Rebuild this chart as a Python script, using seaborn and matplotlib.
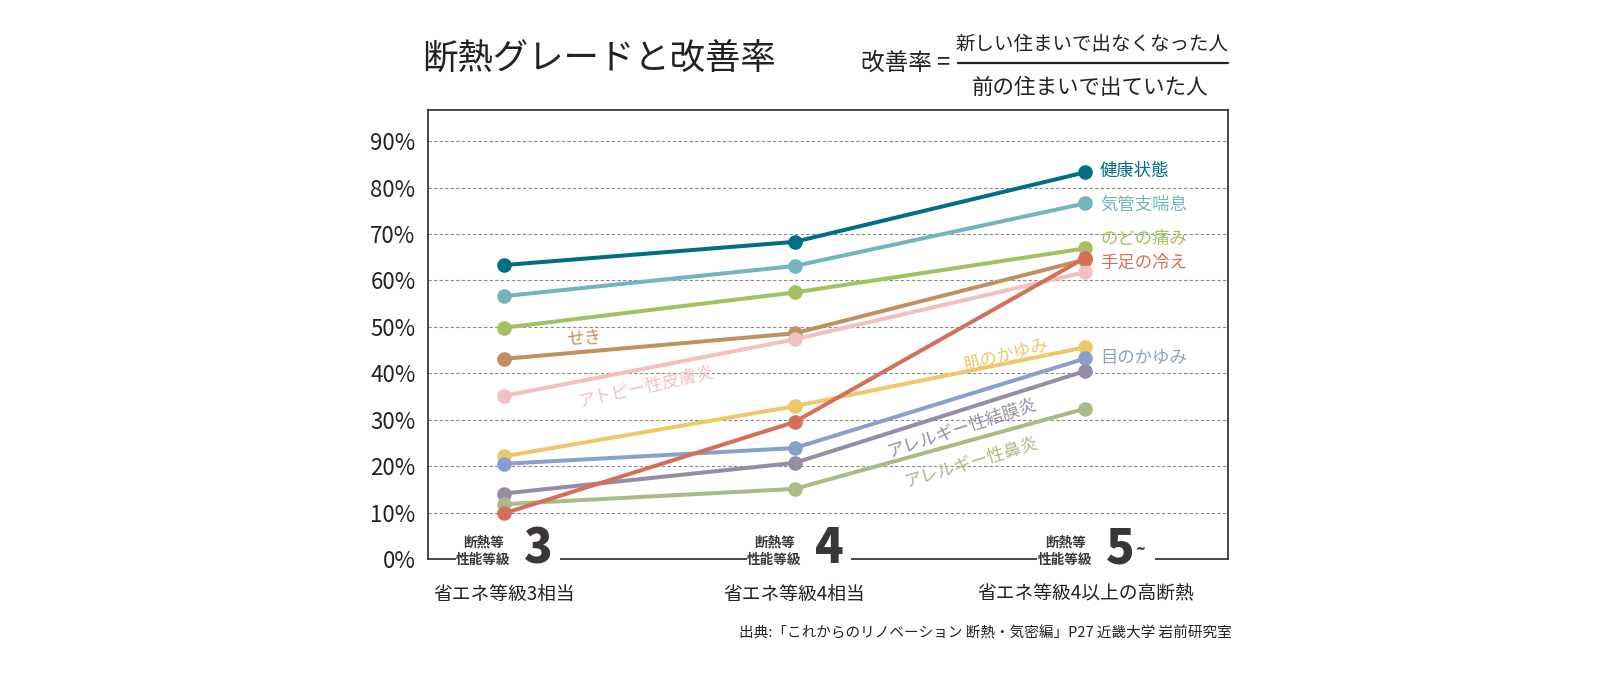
import numpy as np
import pandas as pd
import matplotlib
matplotlib.use('Agg')
import matplotlib.pyplot as plt
import seaborn as sns
from matplotlib.lines import Line2D
from matplotlib.patches import Rectangle

# ---------------- data ----------------
categories = ['省エネ等級3相当', '省エネ等級4相当', '省エネ等級4以上の高断熱']
grade_digits = ['3', '4', '5']
series_names = ['健康状態', '気管支喘息', 'のどの痛み', 'せき', 'アトピー性皮膚炎',
                '肌のかゆみ', '目のかゆみ', 'アレルギー性結膜炎', 'アレルギー性鼻炎', '手足の冷え']
health = [63.3, 68.3, 83.3]
bronchial = [56.6, 63.1, 76.6]
throat = [49.8, 57.4, 66.9]
cough = [43.1, 48.6, 64.5]
atopic = [35.1, 47.3, 61.8]
skin_itch = [22.1, 32.9, 45.6]
eye_itch = [20.5, 23.9, 43.2]
conjunctivitis = [14.1, 20.7, 40.5]
rhinitis = [11.8, 15.1, 32.4]
cold_limbs = [9.8, 29.5, 64.9]
series_values = [health, bronchial, throat, cough, atopic, skin_itch, eye_itch,
                 conjunctivitis, rhinitis, cold_limbs]
colors = ['#006f86', '#72b5be', '#a3c162', '#c0915f', '#f2c0c0',
          '#eec76b', '#8aa0cc', '#978ca5', '#a9bb87', '#d4705a']
y_ticks = [0, 10, 20, 30, 40, 50, 60, 70, 80, 90]
y_ticklabels = [f'{v}%' for v in y_ticks]

title = '断熱グレードと改善率'
formula_left = '改善率 ='
formula_num = '新しい住まいで出なくなった人'
formula_den = '前の住まいで出ていた人'
source = '出典:「これからのリノベーション 断熱・気密編」P27 近畿大学 岩前研究室'

# ---------------- style ----------------
sns.set_theme(style='white')
plt.rcParams['font.family'] = ['Noto Sans CJK JP', 'DejaVu Sans']
plt.rcParams['axes.unicode_minus'] = False

W, H = 1600, 676
fig = plt.figure(figsize=(W / 100, H / 100), dpi=100)
ax = fig.add_axes([428 / W, 1 - 559 / H, 800 / W, 449 / H])

df = pd.DataFrame({
    'series': np.repeat(series_names, len(categories)),
    'x': np.tile(np.arange(len(categories)), len(series_names)),
    'value': np.concatenate(series_values),
})

sns.lineplot(data=df, x='x', y='value', hue='series', hue_order=series_names,
             palette=colors, marker='o', markersize=10.5, markeredgewidth=0,
             linewidth=2.9, legend=False, ax=ax, estimator=None, sort=False)

ax.set_xlim(-0.26, 2.49)
ax.set_ylim(0, 96.7)
ax.set_xticks([])
ax.set_yticks(y_ticks)
ax.set_yticklabels(y_ticklabels, fontsize=16, color='#222222')
ax.tick_params(axis='y', length=0, pad=9)
ax.set_xlabel('')
ax.set_ylabel('')
ax.yaxis.grid(True, linestyle=(0, (3, 2)), color='#8a8a8a', linewidth=0.8)
ax.xaxis.grid(False)
ax.set_axisbelow(True)
for s in ax.spines.values():
    s.set_visible(True)
    s.set_color('#3a3a3a')
    s.set_linewidth(1.3)

# right-hand labels
right_labels = {
    '健康状態': 83.6, '気管支喘息': 76.3, 'のどの痛み': 69.0,
    '手足の冷え': 63.8, '目のかゆみ': 43.3,
}
for name, yv in right_labels.items():
    c = colors[series_names.index(name)]
    ax.text(2.05, yv, name, color=c, fontsize=12.5, ha='left', va='center')

# inline rotated labels
inline_labels = [
    ('せき', 0.278, 47.4, 4),
    ('アトピー性皮膚炎', 0.491, 37.1, 12.5),
    ('肌のかゆみ', 1.725, 44.0, 14.5),
    ('アレルギー性結膜炎', 1.577, 28.2, 18),
    ('アレルギー性鼻炎', 1.608, 20.9, 16.5),
]
for name, xv, yv, rot in inline_labels:
    c = colors[series_names.index(name)]
    ax.text(xv, yv, name, color=c, fontsize=12.5, ha='center', va='center',
            rotation=rot, rotation_mode='anchor')

# grade labels on the x axis (white gaps break the bottom spine)
tr = ax.get_xaxis_transform()
gap_right = [0.195, 0.195, 0.24]
for i, d in enumerate(grade_digits):
    ax.add_patch(Rectangle((i - 0.165, -0.008), 0.165 + gap_right[i], 0.016,
                           transform=tr, facecolor='white', edgecolor='none',
                           zorder=4, clip_on=False))
    ax.text(i - 0.07, 0.017, '断熱等\n性能等級', transform=tr, ha='center', va='center',
            fontsize=9.8, fontweight='bold', color='#3a3a3a', linespacing=1.35,
            multialignment='center', clip_on=False, zorder=5)
    ax.text(i + 0.12, 0.022, d, transform=tr, ha='center', va='center',
            fontsize=34, fontweight='heavy', color='#3a3536', clip_on=False, zorder=5)
    ax.text(i, -0.078, categories[i], transform=tr, ha='center', va='center',
            fontsize=13.5, color='#222222', clip_on=False)
ax.text(2.19, 0.02, '~', transform=tr, ha='center', va='center', fontsize=12,
        fontweight='bold', color='#3a3536', clip_on=False, zorder=5)

# title and formula
fig.text(422 / W, 1 - 59 / H, title, ha='left', va='center', fontsize=25.5, color='#222222')
fig.text(950 / W, 1 - 63 / H, formula_left, ha='right', va='center', fontsize=17, color='#222222')
fig.text(1092 / W, 1 - 44 / H, formula_num, ha='center', va='center', fontsize=14, color='#222222')
fig.text(1090 / W, 1 - 88 / H, formula_den, ha='center', va='center', fontsize=15.5, color='#222222')
fig.add_artist(Line2D([958 / W, 1228 / W], [1 - 63 / H, 1 - 63 / H],
                      transform=fig.transFigure, color='#222222', linewidth=1.6))

fig.text(1232 / W, 1 - 633 / H, source, ha='right', va='center', fontsize=10.5, color='#222222')

fig.savefig('out.png', dpi=100, facecolor='white')
